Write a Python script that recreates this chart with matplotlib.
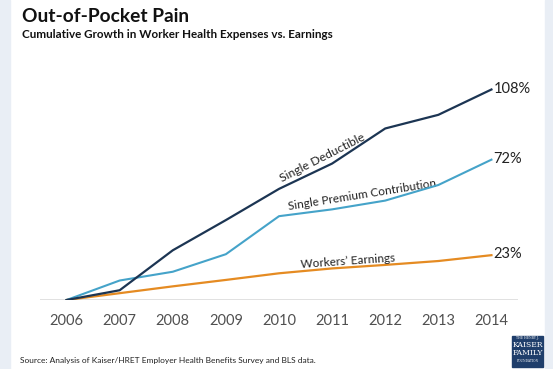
import matplotlib
matplotlib.use("Agg")
import matplotlib.pyplot as plt
from matplotlib.patches import Rectangle

# data: cumulative growth since 2006 (%)
years = [2006, 2007, 2008, 2009, 2010, 2011, 2012, 2013, 2014]
deductible = [0, 5, 25.5, 41, 57, 70, 88, 95, 108]
premium = [0, 10, 14.5, 23.5, 43, 46.5, 51, 59, 72]
earnings = [0, 3.5, 7, 10.3, 13.7, 16.2, 18, 20, 23]
end_labels = ["108%", "72%", "23%"]

navy = "#1c3553"
light_blue = "#45a3c9"
orange = "#e58b22"
txt = "#222222"

plt.rcParams['font.family'] = ['Lato', 'DejaVu Sans']

fig = plt.figure(figsize=(5.53, 3.69), dpi=100)
fig.patch.set_facecolor("white")

# light side strips
fig.add_artist(Rectangle((0, 0), 10 / 553, 1, transform=fig.transFigure, color="#e9eef5", zorder=0))
fig.add_artist(Rectangle((545 / 553, 0), 8 / 553, 1, transform=fig.transFigure, color="#e9eef5", zorder=0))

ax = fig.add_axes([40 / 553, 69 / 369, 478 / 553, 230 / 369])
ax.set_xlim(2005.5, 2014.5)
ax.set_ylim(0, 118)

ax.plot(years, earnings, color=orange, lw=1.6, zorder=3)
ax.plot(years, premium, color=light_blue, lw=1.5, zorder=4)
ax.plot(years, deductible, color=navy, lw=1.6, zorder=5)
ax.axhline(0, color="#dcdcdc", lw=1.2, zorder=1)

for s in ax.spines.values():
    s.set_visible(False)
ax.set_yticks([])
ax.set_xticks(years)
ax.tick_params(axis="x", length=0, pad=10, labelsize=10.5, labelcolor="#505050")

# inline series labels
ax.text(2010.82, 73, "Single Deductible", rotation=27, ha="center", va="center",
        fontsize=8.8, color=txt, rotation_mode="anchor")
ax.text(2011.57, 54, "Single Premium Contribution", rotation=9, ha="center", va="center",
        fontsize=8.5, color=txt, rotation_mode="anchor")
ax.text(2011.3, 20, "Workers\u2019 Earnings", rotation=4, ha="center", va="center",
        fontsize=8.5, color=txt, rotation_mode="anchor")

# end values
for vals, lab in zip([deductible, premium, earnings], end_labels):
    ax.text(years[-1] + 0.04, vals[-1] + 0.5, lab, ha="left", va="center", fontsize=10.5, color=txt)

# titles
fig.text(22 / 553, 1 - 16 / 369, "Out-of-Pocket Pain", fontsize=13.8, fontweight="bold",
         color="#111111", ha="left", va="center")
fig.text(22 / 553, 1 - 35 / 369, "Cumulative Growth in Worker Health Expenses vs. Earnings",
         fontsize=8.4, fontweight="bold", color="#111111", ha="left", va="center")

fig.text(20 / 553, 1 - 360 / 369, "Source: Analysis of Kaiser/HRET Employer Health Benefits Survey and BLS data.",
         fontsize=6, color="#222222", ha="left", va="center")

# logo box
fig.add_artist(Rectangle((512 / 553, 2 / 369), 31 / 553, 31 / 369, transform=fig.transFigure,
                         color="#1f3e6b", zorder=2))
logo_lines = [("THE HENRY J.", 2.2, 29), ("KAISER", 5.5, 22), ("FAMILY", 5.5, 14), ("FOUNDATION", 2.2, 6)]
for t, fs, yy in logo_lines:
    fig.text(527.5 / 553, (2 + yy) / 369, t, fontsize=fs, family="DejaVu Serif", color="white",
             ha="center", va="center", zorder=3)

fig.savefig("out.png", dpi=100)
